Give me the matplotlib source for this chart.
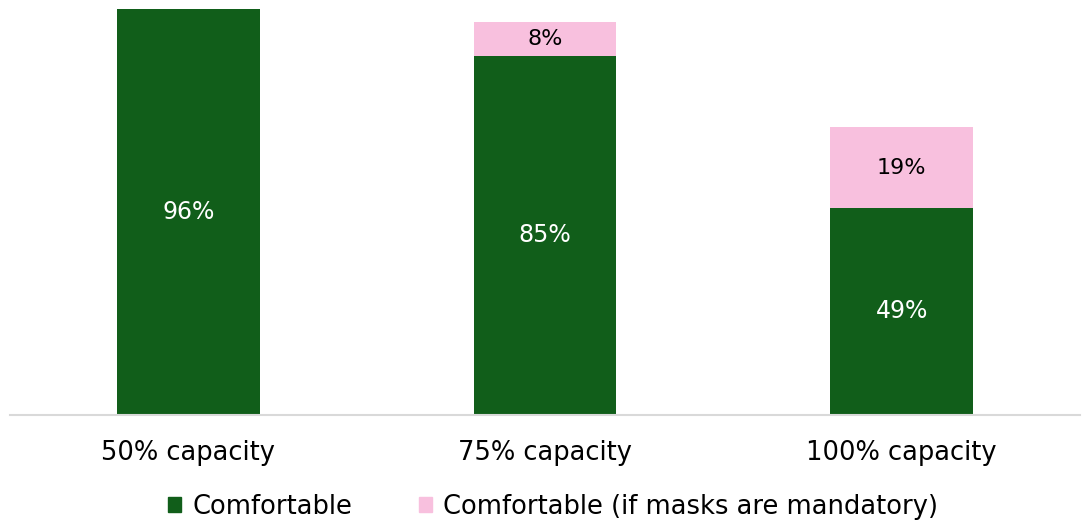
import matplotlib.pyplot as plt
from matplotlib.patches import Patch

categories = ['50% capacity', '75% capacity', '100% capacity']
comfortable = [96, 85, 49]
comfortable_masks = [0, 8, 19]

GREEN = '#115E1A'
PINK = '#F8C0DE'

plt.rcParams['font.family'] = ['DejaVu Sans']

fig = plt.figure(figsize=(10.82, 5.22), dpi=100)
ax = fig.add_axes([10 / 1082, 1 - 415 / 522, 1070 / 1082, 406 / 522])

x = range(len(categories))
b1 = ax.bar(x, comfortable, width=0.4, color=GREEN)
b2 = ax.bar(x, comfortable_masks, width=0.4, bottom=comfortable, color=PINK)

for i, (c, m) in enumerate(zip(comfortable, comfortable_masks)):
    ax.text(i, c / 2, f'{c}%', ha='center', va='center', color='white', fontsize=17)
    if m:
        ax.text(i, c + m / 2, f'{m}%', ha='center', va='center', color='black', fontsize=16)

ax.set_xlim(-0.5, 2.5)
ax.set_ylim(0, 96)
ax.set_yticks([])
ax.set_xticks(list(x))
ax.set_xticklabels(categories, fontsize=18.5)
ax.tick_params(axis='x', length=0, pad=18)
for s in ['top', 'right', 'left']:
    ax.spines[s].set_visible(False)
ax.spines['bottom'].set_color('#D9D9D9')
ax.spines['bottom'].set_linewidth(1.5)

handles = [Patch(color=GREEN, label='Comfortable'),
           Patch(color=PINK, label='Comfortable (if masks are mandatory)')]
fig.legend(handles=handles, loc='lower center', bbox_to_anchor=(553 / 1082, -0.04),
           ncol=2, frameon=False, fontsize=18.5, handlelength=0.5, handleheight=0.5,
           handletextpad=0.45, columnspacing=2.6)

fig.savefig('out.png', dpi=100)
